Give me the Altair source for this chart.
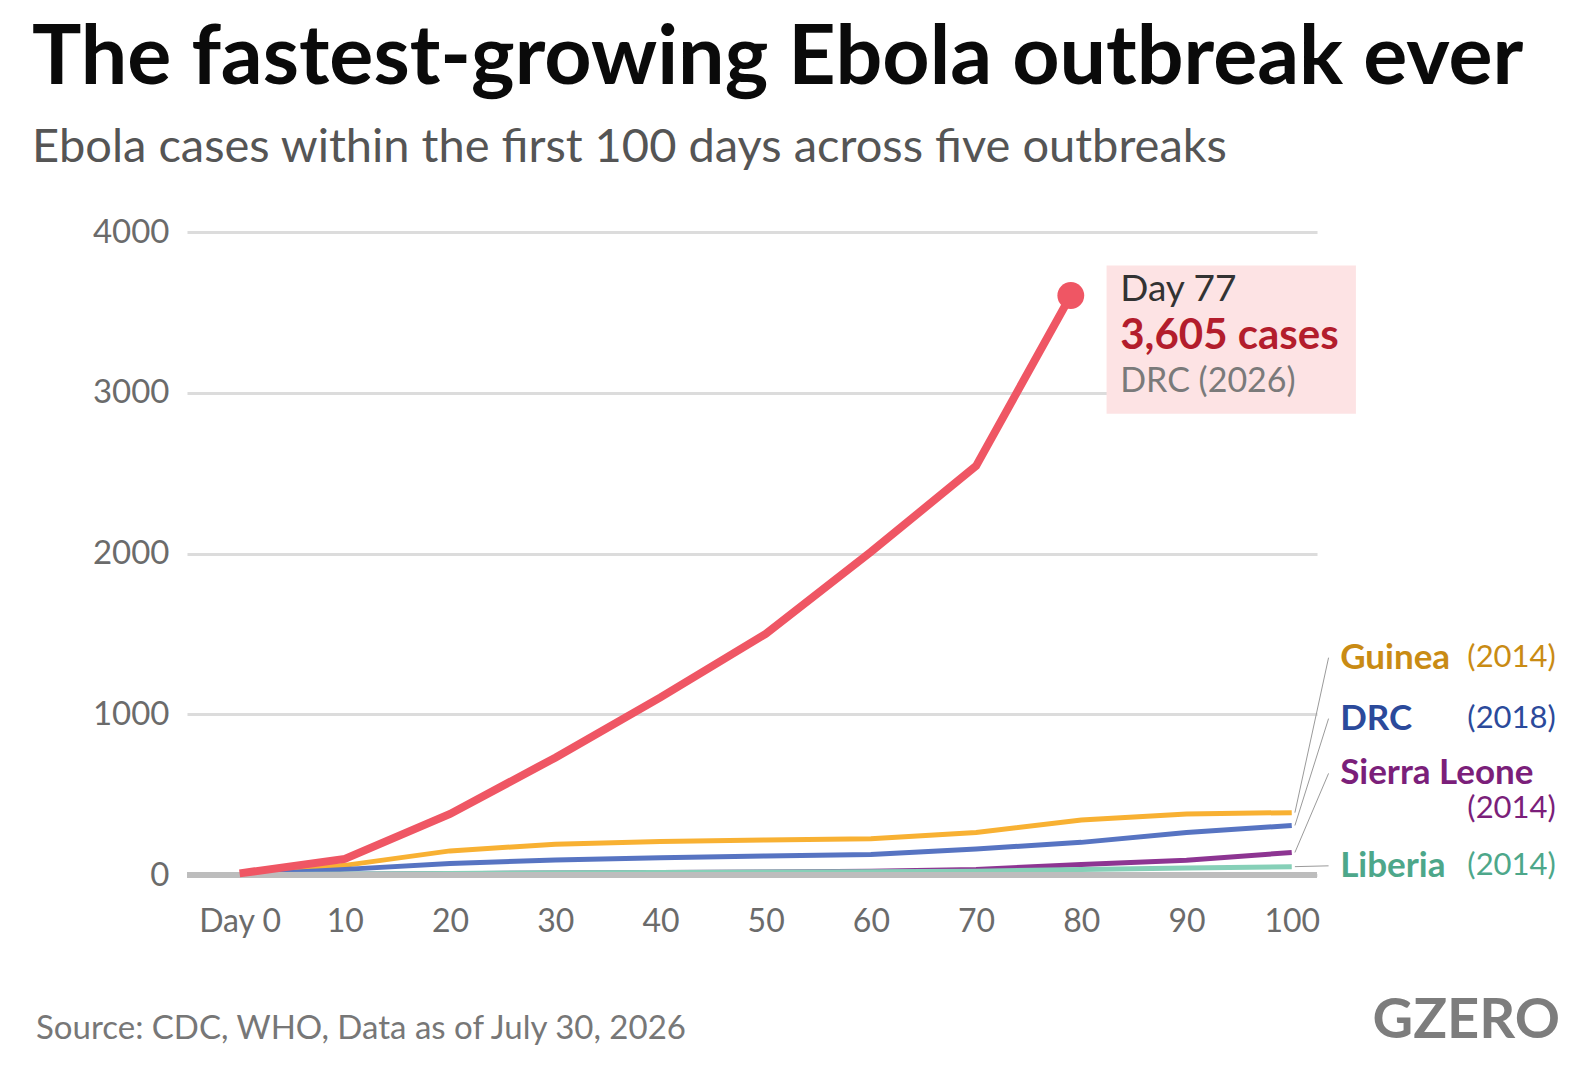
import pandas as pd
import altair as alt

FONT = "Lato"

# --- data ---
days = [0, 10, 20, 30, 40, 50, 60, 70, 80, 90, 100]
guinea_2014 = [0, 60, 150, 192, 208, 218, 226, 265, 342, 380, 388]
drc_2018 = [0, 35, 72, 93, 108, 118, 127, 162, 203, 265, 308]
sierra_leone_2014 = [0, 5, 8, 12, 15, 18, 24, 34, 66, 92, 140]
liberia_2014 = [0, 6, 10, 14, 16, 18, 20, 24, 34, 44, 52]

drc_2026_days = [0, 10, 20, 30, 40, 50, 60, 70, 79]
drc_2026 = [10, 100, 380, 730, 1105, 1500, 2010, 2545, 3605]

series = ["Guinea", "DRC", "Sierra Leone", "Liberia"]
years = ["(2014)", "(2018)", "(2014)", "(2014)"]
line_colors = ["#f8b133", "#5774c2", "#8d3592", "#86d0b8"]
text_colors = ["#c98b14", "#2b4a9b", "#7b1f7a", "#4da78a"]

# label anchors (in data units)
label_name_y = [1352, 973, 632, 57]
label_year_y = [1352, 973, 411, 57]
leader_start_y = [388, 308, 140, 52]

W, H = 1130, 643

rows = []
for name, vals in zip(series, [guinea_2014, drc_2018, sierra_leone_2014, liberia_2014]):
    for d, v in zip(days, vals):
        rows.append({"series": name, "day": d, "cases": v})
others = pd.DataFrame(rows)
red = pd.DataFrame({"day": drc_2026_days, "cases": drc_2026})
last = red.tail(1)

x = alt.X("day:Q", scale=alt.Scale(domain=[-5, 102.4], nice=False, zero=False),
          axis=alt.Axis(values=days, title=None, grid=False, domain=False, ticks=False,
                        labelExpr="datum.value == 0 ? 'Day 0' : datum.label",
                        labelFontSize=32, labelColor="#6b6b6b", labelFont=FONT,
                        labelPadding=31))
y = alt.Y("cases:Q", scale=alt.Scale(domain=[0, 4000], nice=False),
          axis=alt.Axis(values=[0, 1000, 2000, 3000, 4000], format="d", title=None,
                        domain=False, ticks=False, gridColor="#dcdcdc", gridWidth=3,
                        labelFontSize=33, labelColor="#6b6b6b", labelFont=FONT,
                        labelPadding=18))

color = alt.Color("series:N", scale=alt.Scale(domain=series, range=line_colors), legend=None)

base_lines = alt.Chart(others).mark_line(strokeWidth=5).encode(x=x, y=y, color=color)

baseline = alt.Chart(pd.DataFrame({"cases": [0]})).mark_rule(
    color="#bdbdbd", strokeWidth=6).encode(y="cases:Q", x=alt.value(0), x2=alt.value(W))

red_line = alt.Chart(red).mark_line(strokeWidth=8, color="#ef5664").encode(x="day:Q", y="cases:Q")
red_dot = alt.Chart(last).mark_circle(size=720, color="#ef5664", opacity=1).encode(
    x="day:Q", y="cases:Q")

# annotation box
box = alt.Chart(pd.DataFrame({"x1": [82.4], "x2": [106.1], "y1": [3791], "y2": [2869]})).mark_rect(
    color="#fde3e4").encode(x="x1:Q", x2="x2:Q", y="y1:Q", y2="y2:Q")
box_text = pd.DataFrame({
    "day": [83.7, 83.7, 83.7],
    "cases": [3640, 3355, 3065],
    "txt": ["Day 77", "3,605 cases", "DRC (2026)"],
})
box_t1 = alt.Chart(box_text.iloc[[0]]).mark_text(
    align="left", baseline="middle", fontSize=37, font=FONT, color="#333333").encode(
    x="day:Q", y="cases:Q", text="txt:N")
box_t2 = alt.Chart(box_text.iloc[[1]]).mark_text(
    align="left", baseline="middle", fontSize=42, font=FONT, fontWeight="bold", color="#b31d2c").encode(
    x="day:Q", y="cases:Q", text="txt:N")
box_t3 = alt.Chart(box_text.iloc[[2]]).mark_text(
    align="left", baseline="middle", fontSize=34, font=FONT, color="#7a7a7a").encode(
    x="day:Q", y="cases:Q", text="txt:N")

# leader lines and end labels
leaders = pd.DataFrame({
    "x1": [100.3] * 4, "x2": [103.5] * 4,
    "y1": leader_start_y, "y2": label_name_y,
})
leader = alt.Chart(leaders).mark_rule(color="#9a9a9a", strokeWidth=1).encode(
    x="x1:Q", x2="x2:Q", y="y1:Q", y2="y2:Q")

labels = pd.DataFrame({"who": series, "year": years,
                       "ny": label_name_y, "yy": label_year_y,
                       "nx": [104.6] * 4, "yx": [125.1] * 4})
tcolor = alt.Color("who:N", scale=alt.Scale(domain=series, range=text_colors), legend=None)
name_lbl = alt.Chart(labels).mark_text(
    align="left", baseline="middle", fontSize=35, font=FONT, fontWeight="bold").encode(
    x="nx:Q", y="ny:Q", text="who:N", color=tcolor)
year_lbl = alt.Chart(labels).mark_text(
    align="right", baseline="middle", fontSize=31, font=FONT).encode(
    x="yx:Q", y="yy:Q", text="year:N", color=tcolor)

# footer
src = alt.Chart(pd.DataFrame({"t": ["Source: CDC, WHO, Data as of July 30, 2026"]})).mark_text(
    align="left", baseline="middle", fontSize=33, font=FONT, color="#777777").encode(
    x=alt.value(-151), y=alt.value(797), text="t:N")
logo = alt.Chart(pd.DataFrame({"t": ["GZERO"]})).mark_text(
    align="right", baseline="middle", fontSize=56, font=FONT, fontWeight="bold", color="#7d7d7d").encode(
    x=alt.value(1373), y=alt.value(789), text="t:N")

chart = alt.layer(
    base_lines, baseline, red_line, red_dot, box, box_t1, box_t2, box_t3,
    leader, name_lbl, year_lbl, src, logo,
).resolve_scale(color="independent").properties(
    width=W, height=H,
    autosize=alt.AutoSizeParams(type="none"),
    padding={"left": 179, "top": 224, "right": 250, "bottom": 190},
    title=alt.TitleParams(
        text="The fastest-growing Ebola outbreak ever",
        subtitle="Ebola cases within the first 100 days across five outbreaks",
        anchor="start", dx=-4, offset=44,
        font=FONT, fontSize=82.5, fontWeight="bold", color="#0a0a0a",
        subtitleFont=FONT, subtitleFontSize=47, subtitleColor="#555555",
        subtitlePadding=24,
    ),
).configure_view(stroke=None)

chart.save("out.html", embed_options={"renderer": "svg", "actions": False})
